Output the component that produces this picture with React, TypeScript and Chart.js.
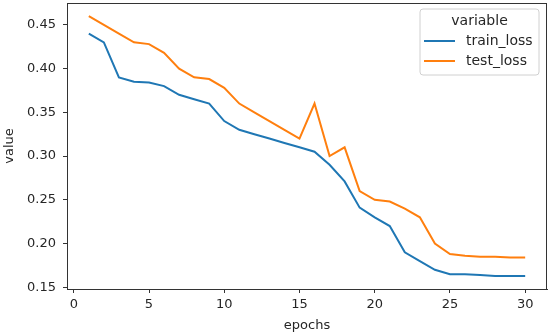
import React, { useEffect, useRef } from "react";
import { Chart, registerables } from "chart.js";

Chart.register(...registerables);

const epochs = [1, 2, 3, 4, 5, 6, 7, 8, 9, 10, 11, 12, 13, 14, 15, 16, 17, 18, 19, 20, 21, 22, 23, 24, 25, 26, 27, 28, 29, 30];
const trainLoss = [0.44, 0.43, 0.39, 0.385, 0.384, 0.38, 0.37, 0.365, 0.36, 0.34, 0.33, 0.325, 0.32, 0.315, 0.31, 0.305, 0.29, 0.271, 0.241, 0.23, 0.22, 0.19, 0.18, 0.17, 0.165, 0.165, 0.164, 0.163, 0.163, 0.163];
const testLoss = [0.46, 0.45, 0.44, 0.43, 0.428, 0.418, 0.4, 0.39, 0.388, 0.378, 0.36, 0.35, 0.34, 0.33, 0.32, 0.36, 0.3, 0.31, 0.26, 0.25, 0.248, 0.24, 0.23, 0.2, 0.188, 0.186, 0.185, 0.185, 0.184, 0.184];
const xTicks = [0, 5, 10, 15, 20, 25, 30];
const yTicks = [0.15, 0.2, 0.25, 0.3, 0.35, 0.4, 0.45];
const seriesNames = ["train_loss", "test_loss"];
const seriesColors = ["#1f77b4", "#ff7f0e"];
const legendTitle = "variable";

const FONT = "'DejaVu Sans', sans-serif";

const framePlugin = {
  id: "frameLegend",
  afterDraw(chart: any) {
    const { ctx, chartArea: a } = chart;
    ctx.save();
    ctx.strokeStyle = "#333";
    ctx.lineWidth = 1;
    ctx.strokeRect(Math.round(a.left) + 0.5, Math.round(a.top) + 0.5, Math.round(a.right - a.left) - 1, Math.round(a.bottom - a.top));

    // legend box
    const bw = 119;
    const bh = 66;
    const bx = a.right - 8 - bw;
    const by = a.top + 6;
    const r = 3;
    ctx.beginPath();
    ctx.moveTo(bx + r, by);
    ctx.lineTo(bx + bw - r, by);
    ctx.quadraticCurveTo(bx + bw, by, bx + bw, by + r);
    ctx.lineTo(bx + bw, by + bh - r);
    ctx.quadraticCurveTo(bx + bw, by + bh, bx + bw - r, by + bh);
    ctx.lineTo(bx + r, by + bh);
    ctx.quadraticCurveTo(bx, by + bh, bx, by + bh - r);
    ctx.lineTo(bx, by + r);
    ctx.quadraticCurveTo(bx, by, bx + r, by);
    ctx.closePath();
    ctx.fillStyle = "rgba(255,255,255,0.8)";
    ctx.fill();
    ctx.strokeStyle = "#d0d0d0";
    ctx.stroke();

    ctx.fillStyle = "#262626";
    ctx.font = `14px ${FONT}`;
    ctx.textAlign = "center";
    ctx.textBaseline = "middle";
    ctx.fillText(legendTitle, bx + bw / 2, by + 12);
    ctx.textAlign = "left";
    seriesNames.forEach((name, i) => {
      const y = by + 32 + i * 20;
      ctx.strokeStyle = seriesColors[i];
      ctx.lineWidth = 2;
      ctx.beginPath();
      ctx.moveTo(bx + 4, y);
      ctx.lineTo(bx + 35, y);
      ctx.stroke();
      ctx.fillStyle = "#262626";
      ctx.fillText(name, bx + 46, y);
    });
    ctx.restore();
  },
};

export default function App() {
  const ref = useRef<HTMLCanvasElement>(null);
  useEffect(() => {
    if (!ref.current) return;
    const tickFont = { family: FONT, size: 13 };
    const chart = new Chart(ref.current, {
      type: "line",
      data: {
        labels: epochs,
        datasets: [
          {
            label: seriesNames[0],
            data: epochs.map((e, i) => ({ x: e, y: trainLoss[i] })),
            borderColor: seriesColors[0],
            borderWidth: 2,
            pointRadius: 0,
            tension: 0,
            fill: false,
          },
          {
            label: seriesNames[1],
            data: epochs.map((e, i) => ({ x: e, y: testLoss[i] })),
            borderColor: seriesColors[1],
            borderWidth: 2,
            pointRadius: 0,
            tension: 0,
            fill: false,
          },
        ],
      },
      options: {
        animation: false,
        responsive: false,
        layout: { padding: { top: 3, right: 3, left: 0, bottom: 0 } },
        plugins: { legend: { display: false }, tooltip: { enabled: false } },
        scales: {
          x: {
            type: "linear",
            min: -0.45,
            max: 31.45,
            afterBuildTicks: (s: any) => {
              s.ticks = xTicks.map((v) => ({ value: v }));
            },
            afterFit: (s: any) => {
              s.height = 46;
              s.paddingLeft = 0;
              s.paddingRight = 0;
            },
            ticks: { font: tickFont, color: "#262626", padding: 4, maxRotation: 0, callback: (v: any) => String(v) },
            grid: { display: true, drawOnChartArea: false, drawTicks: true, tickLength: 4, tickColor: "#333" },
            border: { display: true, color: "#333" },
            title: { display: true, text: "epochs", font: { family: FONT, size: 13 }, color: "#262626", padding: { top: 0, bottom: 2 } },
          },
          y: {
            type: "linear",
            min: 0.148,
            max: 0.475,
            afterBuildTicks: (s: any) => {
              s.ticks = yTicks.map((v) => ({ value: v }));
            },
            afterFit: (s: any) => {
              s.width = 67;
              s.paddingTop = 0;
              s.paddingBottom = 0;
            },
            ticks: { font: tickFont, color: "#262626", padding: 7, callback: (v: any) => Number(v).toFixed(2) },
            grid: { display: true, drawOnChartArea: false, drawTicks: true, tickLength: 4, tickColor: "#333" },
            border: { display: true, color: "#333" },
            title: { display: true, text: "value", font: { family: FONT, size: 13 }, color: "#262626", padding: { top: 2, bottom: 0 } },
          },
        },
      },
      plugins: [framePlugin],
    });
    return () => chart.destroy();
  }, []);
  return (
    <div style={{ position: "absolute", left: 0, top: 0, width: 550, height: 335, background: "#fff" }}>
      <canvas ref={ref} width={550} height={335} />
    </div>
  );
}
